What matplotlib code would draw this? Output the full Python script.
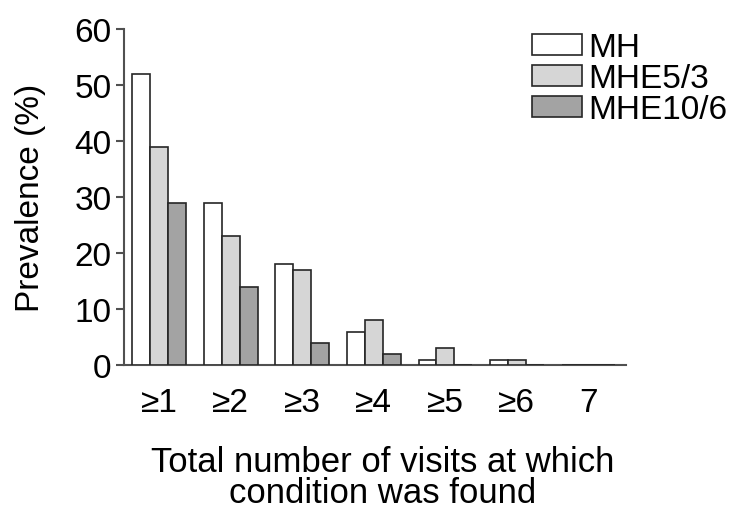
import matplotlib

matplotlib.use("Agg")
import matplotlib.pyplot as plt
import numpy as np

plt.rcParams["font.family"] = ["Liberation Sans", "DejaVu Sans"]

categories = ["≥1", "≥2", "≥3", "≥4", "≥5", "≥6", "7"]
series_names = ["MH", "MHE5/3", "MHE10/6"]
mh = [52, 29, 18, 6, 1, 1, 0]
mhe53 = [39, 23, 17, 8, 3, 1, 0]
mhe106 = [29, 14, 4, 2, 0, 0, 0]

colors = ["#ffffff", "#d6d6d6", "#a3a3a3"]
edge = "#262626"
axis_grey = "#505050"

fig = plt.figure(figsize=(7.43, 5.10), dpi=100)
ax = fig.add_axes([0.167, 0.282, 0.676, 0.659])

x = np.arange(len(categories))
w = 0.25
for i, (vals, name, c) in enumerate(zip([mh, mhe53, mhe106], series_names, colors)):
    ax.bar(x + (i - 1) * w, vals, width=w, color=c, edgecolor=edge,
           linewidth=1.2, label=name, zorder=3)

ax.set_xlim(-0.49, 6.53)
ax.set_ylim(0, 60)
ax.set_yticks(np.arange(0, 61, 10))
ax.set_xticks(x)
ax.set_xticklabels(categories)

for side in ("top", "right"):
    ax.spines[side].set_visible(False)
for side in ("left", "bottom"):
    ax.spines[side].set_linewidth(1.5)
    ax.spines[side].set_color(axis_grey)

ax.tick_params(axis="y", labelsize=24, length=6, width=1.5, color=axis_grey, pad=3)
ax.tick_params(axis="x", labelsize=24, length=0, pad=16)

ax.set_ylabel("Prevalence (%)", fontsize=24)
ax.yaxis.set_label_coords(-0.155, 0.5)
ax.set_xlabel("Total number of visits at which\ncondition was found",
              fontsize=25, linespacing=0.9)
ax.xaxis.set_label_coords(0.514, -0.238)

ax.legend(loc="upper left", bbox_to_anchor=(0.716, 0.935),
          bbox_transform=fig.transFigure, frameon=False, fontsize=24,
          handlelength=1.5, handleheight=0.62, handletextpad=0.2,
          labelspacing=0.0, borderpad=0, borderaxespad=0)

fig.savefig("out.png", dpi=100)
